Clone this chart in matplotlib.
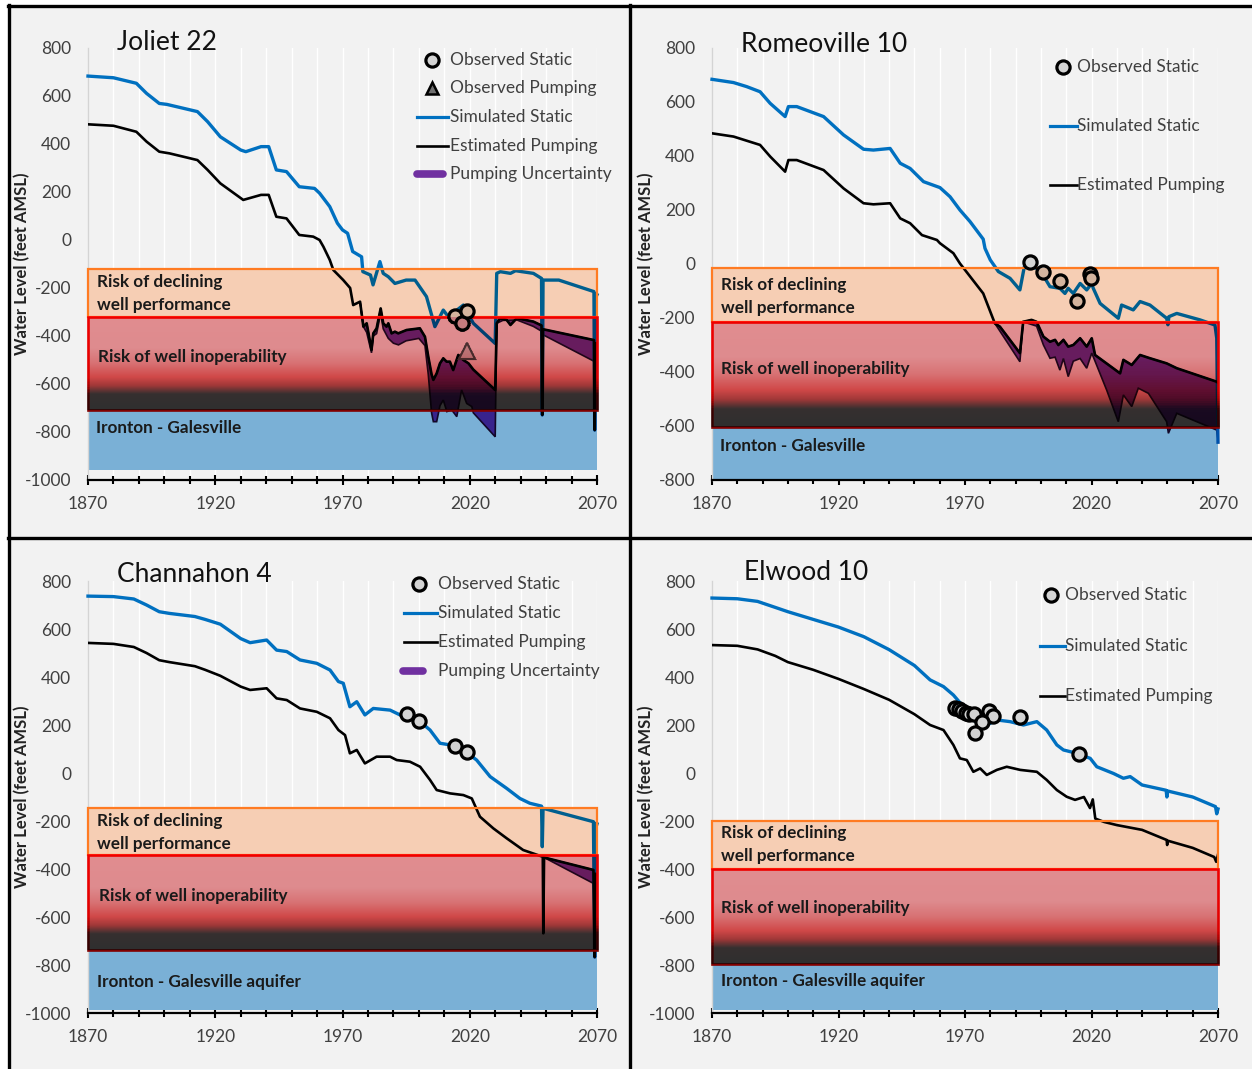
import numpy as np
import matplotlib
matplotlib.use('Agg')
import matplotlib.pyplot as plt
from matplotlib.patches import Rectangle
from matplotlib.lines import Line2D
from matplotlib.transforms import Bbox, TransformedBbox

plt.rcParams['font.family'] = ['Lato', 'DejaVu Sans']
plt.rcParams['axes.unicode_minus'] = False

# ======================= DATA =======================
# ---- Joliet 22 ----
joliet_static_years = [1870, 1880, 1889, 1893, 1898, 1901, 1913, 1917, 1922, 1930,
                       1932, 1938, 1941, 1944, 1948, 1953, 1959, 1961, 1965, 1968,
                       1970, 1972, 1974, 1977.5, 1978, 1981, 1982, 1984.7, 1986, 1988,
                       1990.6, 1995, 1998.5, 2003, 2006.3, 2009.6, 2011.6, 2014, 2017.5, 2021.4,
                       2030, 2030.6, 2032, 2036, 2038, 2045, 2048.2, 2048.5, 2048.8, 2055,
                       2068.8, 2069.1, 2069.4, 2070]
joliet_static = [683, 676, 653, 611, 569, 565, 535, 493, 430, 375,
                 368, 389, 389, 292, 285, 222, 215, 195, 139, 70,
                 42, 28, -48, -70, -132, -146, -187, -90, -139, -153,
                 -181, -167, -167, -236, -361, -292, -320, -300, -271, -347,
                 -431, -139, -132, -139, -128, -139, -160, -729, -167, -167,
                 -215, -792, -225, -228]
joliet_pump_years = [1870, 1880, 1889, 1893, 1898, 1902, 1913, 1917, 1922, 1931,
                     1938, 1941, 1944, 1948, 1953, 1958.5, 1961, 1962.5, 1965, 1966.4,
                     1970.3, 1973, 1974.2, 1976.9, 1978.2, 1979.5, 1981.4, 1982.1, 1983.4, 1985,
                     1986, 1987.3, 1988, 1989.3, 1990.6, 1991.9, 1995.2, 2000.4, 2002.4, 2003.7,
                     2005, 2005.7, 2007, 2008.3, 2009.6, 2010.9, 2012.2, 2013.5, 2015.5, 2017.5,
                     2019.5, 2021.4, 2030, 2030.6, 2031.9, 2034.5, 2036, 2038.5, 2045, 2048.2,
                     2048.5, 2048.8, 2050.2, 2068.8, 2069.1, 2069.4, 2070]
joliet_pump = [482, 476, 451, 410, 368, 361, 333, 292, 236, 167,
               188, 188, 97, 90, 21, 14, 0, -28, -83, -125,
               -167, -200, -271, -257, -361, -347, -458, -389, -368, -285,
               -347, -361, -347, -389, -382, -389, -375, -368, -403, -486,
               -560, -583, -556, -514, -493, -507, -507, -542, -479, -500,
               -514, -540, -625, -347, -326, -333, -354, -326, -340, -356,
               -729, -372, -375, -417, -792, -430, -432]
joliet_unc_years = [1976.9, 1978.2, 1979.5, 1981.4, 1982.1, 1983.4, 1985, 1986, 1988, 1990,
                    1992, 1995, 2000, 2002.4, 2003.7, 2005, 2005.7, 2007, 2008.3, 2009.6,
                    2011, 2012.9, 2014.9, 2016.8, 2018.8, 2020.8, 2021.4, 2030, 2030.6, 2033,
                    2038.5, 2045, 2048.2, 2048.5, 2048.8, 2068.8, 2069.1, 2069.4, 2070]
joliet_unc_low = [-257, -361, -385, -470, -400, -390, -305, -370, -410, -430,
                  -437, -420, -410, -440, -560, -720, -757, -757, -690, -667,
                  -715, -708, -736, -625, -681, -694, -720, -820, -347, -335,
                  -333, -360, -380, -729, -395, -505, -792, -520, -522]
joliet_obs_years = [2014.2, 2016.8, 2018.9]
joliet_obs = [-315, -346, -294]
joliet_obsp_years = [2019.0]
joliet_obsp = [-462]
joliet_zones = [-120, -320, -710, -960]   # declining top, inoperability top, aquifer top, aquifer bottom

# ---- Romeoville 10 ----
romeo_static_years = [1870, 1878.5, 1883.7, 1889, 1893, 1898.9, 1900.2, 1903.5, 1914.1, 1922,
                      1929.9, 1933.8, 1940.4, 1944.4, 1948.3, 1953.6, 1960.1, 1964.1, 1968, 1972,
                      1977.2, 1977.9, 1980, 1983.2, 1987.8, 1991.7, 1993.7, 1999.6, 2003.6, 2007.5,
                      2009.5, 2010.8, 2012.8, 2015.5, 2018.1, 2020.1, 2020.7, 2023.4, 2030.6, 2031.9,
                      2036.5, 2039.2, 2043.1, 2049.7, 2050.2, 2050.6, 2053.7, 2062.9, 2068.8, 2069.5,
                      2070]
romeo_static = [684, 672, 657, 638, 595, 546, 583, 583, 546, 478,
                425, 422, 428, 373, 354, 305, 283, 249, 200, 157,
                92, 58, 15, -28, -53, -96, 2, -22, -84, -90,
                -109, -90, -109, -72, -96, -72, -90, -146, -201, -152,
                -170, -139, -152, -201, -225, -195, -183, -207, -226, -275,
                -660]
romeo_pump_years = [1870, 1878.5, 1889, 1893, 1898.9, 1900.2, 1903.5, 1914.1, 1922, 1929.9,
                    1933.8, 1940.4, 1944.4, 1948.3, 1953, 1958.9, 1960.1, 1965.4, 1968, 1970,
                    1977.2, 1981.8, 1983.8, 1991.7, 1993, 1996.3, 1998.3, 2001, 2003.6, 2005.6,
                    2006.9, 2008.9, 2010.8, 2012.8, 2015.5, 2018.1, 2020.1, 2021.4, 2031.3, 2032.6,
                    2035.9, 2039.2, 2043.1, 2049.7, 2053.7, 2069.5, 2070]
romeo_pump = [484, 472, 441, 398, 342, 385, 385, 348, 280, 225,
              221, 225, 169, 151, 107, 89, 77, 40, 2, -22,
              -109, -220, -232, -330, -214, -207, -214, -269, -288, -281,
              -300, -281, -306, -300, -275, -306, -275, -337, -405, -355,
              -374, -337, -349, -368, -386, -436, -440]
romeo_unc_years = [1981.8, 1983.2, 1991.7, 1993, 1998.3, 2001, 2003.6, 2005.6, 2007.5, 2008.9,
                   2010.8, 2012.8, 2015.5, 2018.1, 2020.1, 2021.4, 2026, 2030.6, 2032.6, 2035.9,
                   2038.5, 2042.5, 2049.7, 2050.4, 2053.7, 2069.5, 2070]
romeo_unc_low = [-220, -240, -362, -214, -230, -300, -349, -345, -393, -350,
                 -417, -360, -350, -386, -330, -360, -467, -584, -485, -528,
                 -460, -479, -584, -627, -553, -615, -650]
romeo_obs_years = [1995.7, 2000.8, 2007.5, 2014.3, 2019.4, 2019.8]
romeo_obs = [7, -30, -63, -137, -37, -52]
romeo_zones = [-15, -215, -605, -800]

# ---- Channahon 4 ----
chan_static_years = [1870, 1880, 1888, 1893, 1898, 1902, 1912, 1916, 1922, 1930,
                     1933.7, 1940.2, 1944.1, 1948.1, 1953.3, 1959.9, 1965.1, 1968.4, 1970.3, 1972.9,
                     1975.6, 1978.8, 1982.1, 1988.7, 1992.6, 2000.5, 2004.4, 2008.3, 2012.3, 2017.5,
                     2022.7, 2028, 2034.5, 2039.7, 2043.6, 2048.2, 2048.5, 2048.8, 2068.6, 2069.1,
                     2069.4, 2070]
chan_static = [737, 735, 725, 700, 672, 665, 652, 640, 620, 560,
               543, 554, 512, 506, 471, 457, 429, 381, 374, 276,
               297, 242, 269, 262, 242, 214, 179, 124, 117, 96,
               54, -15, -64, -106, -126, -138, -307, -147, -203, -767,
               -210, -212]
chan_pump_years = [1870, 1880, 1888, 1893, 1898, 1902, 1912, 1916, 1922, 1930,
                   1933.7, 1940.2, 1944.1, 1948.1, 1953.3, 1959.9, 1965.1, 1968.4, 1971, 1972.9,
                   1975.6, 1978.8, 1983.4, 1988.7, 1991.3, 1996.5, 2000.5, 2004.4, 2007, 2012.3,
                   2017.5, 2020.8, 2024, 2029.3, 2034.5, 2041, 2048.7, 2048.9, 2049.2, 2068.6,
                   2069.1, 2069.4, 2070]
chan_pump = [542, 538, 525, 500, 470, 462, 445, 430, 405, 360,
             346, 353, 311, 304, 269, 255, 228, 179, 158, 82,
             96, 40, 68, 68, 54, 47, 26, -29, -71, -85,
             -92, -106, -182, -231, -272, -321, -349, -668, -352, -404,
             -767, -420, -422]
chan_unc_years = [2049.2, 2068.6, 2069.1, 2069.4, 2070]
chan_unc_low = [-352, -460, -767, -470, -472]
chan_obs_years = [1995.2, 2000.2, 2014.2, 2018.8]
chan_obs = [246, 217, 112, 89]
chan_zones = [-145, -342, -737, -988]

# ---- Elwood 10 ----
elwood_static_years = [1870, 1880, 1888, 1895, 1900, 1910, 1920, 1930, 1940, 1950,
                       1956.2, 1961.5, 1965.4, 1969.4, 1973.3, 1977.3, 1982.6, 1987.8, 1993.1, 1998.4,
                       2002.3, 2006.3, 2008.9, 2014.2, 2019.5, 2022.1, 2028.7, 2032.6, 2035.3, 2040,
                       2049.5, 2049.8, 2050.1, 2060, 2069, 2069.5, 2070]
elwood_static = [729, 726, 715, 690, 672, 640, 608, 568, 514, 448,
                 388, 360, 325, 276, 221, 193, 221, 214, 200, 214,
                 179, 117, 96, 82, 61, 26, -2, -22, -15, -50,
                 -72, -100, -75, -100, -140, -170, -150]
elwood_pump_years = [1870, 1880, 1888, 1895, 1900, 1910, 1920, 1930, 1940, 1950,
                     1956.2, 1961.5, 1965.4, 1968, 1970.7, 1973.3, 1976, 1978.6, 1982.6, 1986.5,
                     1991.8, 1998.4, 2002.3, 2006.3, 2010.2, 2013.5, 2017, 2019.4, 2020.5, 2021.5,
                     2025, 2030, 2040, 2049.7, 2049.9, 2050.1, 2060, 2068.5, 2069.3, 2070]
elwood_pump = [533, 530, 515, 488, 462, 430, 392, 350, 305, 245,
               200, 179, 117, 61, 54, 5, 19, -8, 13, 26,
               13, 5, -29, -71, -99, -112, -100, -146, -110, -190,
               -204, -217, -237, -279, -300, -282, -312, -350, -370, -340]
elwood_obs_years = [1966.2, 1967.5, 1968.8, 1970.2, 1971.5, 1973.5, 1979.3, 1981.2, 1976.6, 1973.9, 1991.8, 2015.2]
elwood_obs = [272, 265, 258, 251, 246, 244, 260, 238, 214, 165, 235, 79]
elwood_zones = [-200, -400, -795, -988]

# ======================= STYLE =======================
W, H = 1252, 1069
BGc = np.array([242, 242, 242]) / 255
ORANGE = np.array([246, 206, 180]) / 255
AQUIFER = np.array([122, 176, 214]) / 255
BLUE = np.array([0, 112, 192]) / 255
PURPLE = np.array([112, 48, 160]) / 255
PURPLE_EDGE = np.array([35, 10, 45]) / 255
RED = np.array([255, 0, 0]) / 255
CIRC_FACE = np.array([212, 212, 212]) / 255
TRI_FACE = np.array([205, 205, 205]) / 255
TRI_EDGE = np.array([80, 80, 80]) / 255
GRAD = [(0.0, (225, 141, 144)), (0.34, (222, 139, 142)), (0.50, (216, 114, 116)),
        (0.65, (208, 72, 72)), (0.74, (160, 56, 56)), (0.83, (54, 48, 48)), (1.0, (47, 47, 47))]
TXT = '#404040'


def grad_color(t):
    ts = [s[0] for s in GRAD]
    cs = np.array([s[1] for s in GRAD]) / 255
    return np.array([np.interp(t, ts, cs[:, k]) for k in range(3)])


def fx(x):
    return x / W


def fy(y):
    return 1 - y / H


fig = plt.figure(figsize=(W / 100, H / 100), dpi=100, facecolor='#f2f2f2')


def draw_panel(px, ylim, yticks, zones, sx, sy, pxs, pys, ux, uy, ox, oy, opx, opy, labels):
    x0, y0, x1, y1 = px
    ax = fig.add_axes([fx(x0), fy(y1), (x1 - x0) / W, (y1 - y0) / H])
    ax.set_facecolor('#f2f2f2')
    o_top, r_top, r_bot, b_bot = zones

    # zones (background)
    ax.add_patch(Rectangle((1870, b_bot), 200, r_bot - b_bot, facecolor=AQUIFER,
                           edgecolor='none', zorder=1))
    ax.add_patch(Rectangle((1870, r_top), 200, o_top - r_top, facecolor=ORANGE,
                           edgecolor='none', zorder=1))
    img = np.array([grad_color(t) for t in np.linspace(0, 1, 256)])[:, None, :]
    ax.imshow(img, extent=[1870, 2070, r_bot, r_top], aspect='auto',
              interpolation='bilinear', zorder=1, origin='upper')
    ax.add_patch(Rectangle((1870, r_top), 200, o_top - r_top, fill=False,
                           edgecolor='#ff7b22', lw=1.6, zorder=4.4, clip_on=False))

    # horizontal strips: elements are tinted (multiplied) by the zone colour under them
    strips = [(o_top, 1e4, np.ones(3)),
              (r_top, o_top, np.minimum(ORANGE / BGc, 1))]
    N = 60
    ed = np.linspace(r_top, r_bot, N + 1)
    for i in range(N):
        strips.append((ed[i + 1], ed[i], np.minimum(grad_color((i + 0.5) / N) / BGc, 1)))
    strips.append((b_bot, r_bot, np.minimum(AQUIFER / BGc, 1)))
    strips.append((-1e4, b_bot, np.ones(3)))

    sx = np.asarray(sx); sy = np.asarray(sy)
    pxa = np.asarray(pxs); pya = np.asarray(pys)
    for (ya, yb, f) in strips:
        box = TransformedBbox(Bbox([[1860, ya], [2080, yb]]), ax.transData)
        arts = []
        if ux is not None:
            m = pxa >= ux[0]
            polx = np.concatenate([pxa[m], np.asarray(ux)[::-1]])
            poly = np.concatenate([pya[m], np.asarray(uy)[::-1]])
            arts += ax.fill(polx, poly, facecolor=PURPLE * f, edgecolor=PURPLE_EDGE * f,
                            lw=1.2, zorder=2.5)
        arts += ax.plot(sx, sy, color=BLUE * f, lw=2.4, zorder=3, solid_joinstyle='round')
        arts += ax.plot(ox, oy, ls='none', marker='o', ms=9.5, mfc=CIRC_FACE * f,
                        mec='black', mew=2.3, zorder=5)
        if opx is not None:
            arts += ax.plot(opx, opy, ls='none', marker='^', ms=11, mfc=TRI_FACE * f,
                            mec=TRI_EDGE * f, mew=1.5, zorder=5)
        rb = Rectangle((1870, r_bot), 200, r_top - r_bot, fill=False,
                       edgecolor=RED * f, lw=1.9, zorder=4.5)
        ax.add_patch(rb)
        rb.set_clip_path(None)
        arts.append(rb)
        for a in arts:
            a.set_clip_box(box)

    ax.plot(pxa, pya, color='black', lw=1.9, zorder=3.5, solid_joinstyle='round')

    for (lx, ly, s) in labels:
        ax.text(lx, ly, s, fontsize=12.3, fontweight='bold', color='#1a1a1a',
                va='center', ha='left', zorder=7)

    ax.set_xlim(1870, 2070)
    ax.set_ylim(*ylim)
    ax.set_xticks([1870, 1920, 1970, 2020, 2070])
    ax.set_xticks(np.arange(1870, 2071, 10), minor=True)
    ax.set_yticks(yticks)
    ax.tick_params(axis='x', which='major', direction='inout', length=7, width=1.5,
                   color='black', labelsize=12.5, labelcolor=TXT, pad=8)
    ax.tick_params(axis='x', which='minor', direction='inout', length=5.5, width=1.5,
                   color='black')
    ax.tick_params(axis='y', length=0, pad=12, labelsize=12.5, labelcolor=TXT)
    ax.set_axisbelow(True)
    ax.grid(True, axis='x', which='both', color='white', lw=1.0)
    for s in ['top', 'right']:
        ax.spines[s].set_visible(False)
    ax.spines['left'].set_color('#d4d4d4')
    ax.spines['left'].set_linewidth(1.0)
    ax.spines['bottom'].set_color('black')
    ax.spines['bottom'].set_linewidth(1.6)
    ax.spines['bottom'].set_zorder(4)
    return ax


yt_a = list(range(-1000, 801, 200))
yt_b = list(range(-800, 801, 200))

draw_panel((88, 48, 597, 480), (-1000, 800), yt_a, joliet_zones,
           joliet_static_years, joliet_static, joliet_pump_years, joliet_pump,
           joliet_unc_years, joliet_unc_low, joliet_obs_years, joliet_obs,
           joliet_obsp_years, joliet_obsp,
           [(1873.5, -175, 'Risk of declining'), (1873.5, -271, 'well performance'),
            (1873.9, -487, 'Risk of well inoperability'), (1873.1, -783, 'Ironton - Galesville')])

draw_panel((712, 48, 1218, 480), (-800, 800), yt_b, romeo_zones,
           romeo_static_years, romeo_static, romeo_pump_years, romeo_pump,
           romeo_unc_years, romeo_unc_low, romeo_obs_years, romeo_obs, None, None,
           [(1873.6, -78, 'Risk of declining'), (1873.6, -163, 'well performance'),
            (1873.6, -389, 'Risk of well inoperability'), (1873.2, -674, 'Ironton - Galesville')])

draw_panel((88, 581, 597, 1013), (-1000, 800), yt_a, chan_zones,
           chan_static_years, chan_static, chan_pump_years, chan_pump,
           chan_unc_years, chan_unc_low, chan_obs_years, chan_obs, None, None,
           [(1873.5, -200, 'Risk of declining'), (1873.5, -296, 'well performance'),
            (1874.3, -512, 'Risk of well inoperability'),
            (1873.5, -871, 'Ironton - Galesville aquifer')])

draw_panel((712, 581, 1218, 1013), (-1000, 800), yt_a, elwood_zones,
           elwood_static_years, elwood_static, elwood_pump_years, elwood_pump,
           None, None, elwood_obs_years, elwood_obs, None, None,
           [(1873.6, -250, 'Risk of declining'), (1873.6, -346, 'well performance'),
            (1873.6, -562, 'Risk of well inoperability'),
            (1873.6, -867, 'Ironton - Galesville aquifer')])

# ======================= TITLES / LABELS =======================
for (tx, ty, s) in [(117, 43, 'Joliet 22'), (741, 45, 'Romeoville 10'),
                    (117, 574, 'Channahon 4'), (744, 573, 'Elwood 10')]:
    fig.text(fx(tx), fy(ty), s, fontsize=19, color='#111111', ha='left', va='center')

for (tx, ty) in [(22, 264), (646, 264), (22, 797), (646, 797)]:
    fig.text(fx(tx), fy(ty), 'Water Level (feet AMSL)', rotation=90, fontsize=12,
             fontweight='bold', color='#222222', ha='center', va='center')


# ======================= LEGENDS =======================
def legend(items, mx, lx0, lx1, tx):
    for kind, y, label, px0, px1 in items:
        if kind == 'circle':
            fig.add_artist(Line2D([fx(mx)], [fy(y)], marker='o', ms=9.5, mfc=CIRC_FACE,
                                  mec='black', mew=2.3, ls='none', transform=fig.transFigure))
        elif kind == 'tri':
            fig.add_artist(Line2D([fx(mx)], [fy(y)], marker='^', ms=9, mfc='#707070',
                                  mec='black', mew=1.8, ls='none', transform=fig.transFigure))
        elif kind == 'blue':
            fig.add_artist(Line2D([fx(lx0), fx(lx1)], [fy(y), fy(y)], color=BLUE, lw=2.3,
                                  transform=fig.transFigure))
        elif kind == 'black':
            fig.add_artist(Line2D([fx(lx0), fx(lx1)], [fy(y), fy(y)], color='black', lw=1.9,
                                  transform=fig.transFigure))
        elif kind == 'purple':
            fig.add_artist(Line2D([fx(px0), fx(px1)], [fy(y), fy(y)], color=PURPLE, lw=5.5,
                                  solid_capstyle='round', transform=fig.transFigure))
        fig.text(fx(tx), fy(y), label, fontsize=12.5, color=TXT, ha='left', va='center')


legend([('circle', 60, 'Observed Static', 0, 0), ('tri', 88, 'Observed Pumping', 0, 0),
        ('blue', 117, 'Simulated Static', 0, 0), ('black', 146, 'Estimated Pumping', 0, 0),
        ('purple', 174, 'Pumping Uncertainty', 417, 443)], 432, 417, 448, 450)
legend([('circle', 67, 'Observed Static', 0, 0), ('blue', 126, 'Simulated Static', 0, 0),
        ('black', 185, 'Estimated Pumping', 0, 0)], 1063, 1050, 1077, 1077)
legend([('circle', 584, 'Observed Static', 0, 0), ('blue', 613, 'Simulated Static', 0, 0),
        ('black', 642, 'Estimated Pumping', 0, 0),
        ('purple', 671, 'Pumping Uncertainty', 403, 423)], 419, 404, 437, 438)
legend([('circle', 595, 'Observed Static', 0, 0), ('blue', 646, 'Simulated Static', 0, 0),
        ('black', 696, 'Estimated Pumping', 0, 0)], 1051, 1040, 1065, 1065)

# ======================= FRAME =======================
fig.add_artist(Rectangle((0, 0), fx(7), 1, transform=fig.transFigure, color='white', zorder=10))
fig.add_artist(Rectangle((0, fy(5)), 1, 5 / H, transform=fig.transFigure, color='white', zorder=10))
for (xa, ya, xb, yb) in [(8, 6, 1252, 6), (9, 5, 9, 1069), (630, 5, 630, 1069), (8, 538, 1252, 538)]:
    fig.add_artist(Line2D([fx(xa), fx(xb)], [fy(ya), fy(yb)], color='black', lw=2.4,
                          transform=fig.transFigure, zorder=11))

fig.savefig('out.png', dpi=100, facecolor=fig.get_facecolor())
